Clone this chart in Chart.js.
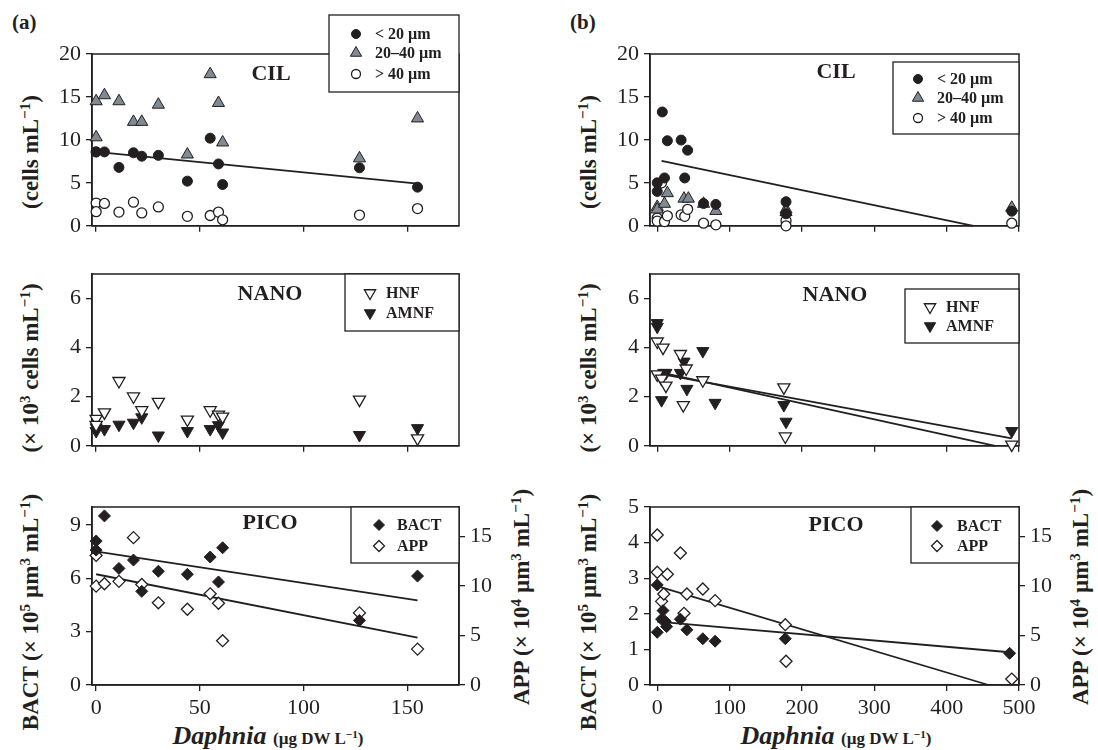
<!DOCTYPE html>
<html><head><meta charset="utf-8">
<script src="https://cdn.jsdelivr.net/npm/chart.js@4.4.1/dist/chart.umd.min.js"></script>
<style>
html,body{margin:0;padding:0;background:#fff;}
#wrap{position:relative;width:1098px;height:750px;overflow:hidden;font-family:'Liberation Serif','Times New Roman',serif;color:#231f20;}
canvas{position:absolute;}
.lab{position:absolute;white-space:nowrap;font-weight:bold;transform:translate(-50%,-50%);line-height:1;}
.rot{transform:translate(-50%,-50%) rotate(-90deg);font-size:23px;}
.pl{font-size:21px;transform:translate(0,-50%);}
.xt{font-size:26px;}
.xt i{font-style:italic;}
.xt .sm{font-size:17px;}
sup{font-size:0.66em;vertical-align:0.5em;line-height:0;}
</style></head>
<body><div id="wrap">
<div class="lab pl" style="left:12px;top:22px">(a)</div>
<div class="lab pl" style="left:570px;top:22px">(b)</div>
<div class="lab rot" style="left:30px;top:152px">(cells mL<sup>−1</sup>)</div>
<div class="lab rot" style="left:30px;top:368px">(× 10<sup>3</sup> cells mL<sup>−1</sup>)</div>
<div class="lab rot" style="left:30px;top:612px">BACT (× 10<sup>5</sup> µm<sup>3</sup> mL<sup>−1</sup>)</div>
<div class="lab rot" style="left:521px;top:597px">APP (× 10<sup>4</sup> µm<sup>3</sup> mL<sup>−1</sup>)</div>
<div class="lab rot" style="left:588px;top:152px">(cells mL<sup>−1</sup>)</div>
<div class="lab rot" style="left:588px;top:368px">(× 10<sup>3</sup> cells mL<sup>−1</sup>)</div>
<div class="lab rot" style="left:588px;top:612px">BACT (× 10<sup>5</sup> µm<sup>3</sup> mL<sup>−1</sup>)</div>
<div class="lab rot" style="left:1080px;top:597px">APP (× 10<sup>4</sup> µm<sup>3</sup> mL<sup>−1</sup>)</div>
<div class="lab xt" style="left:268px;top:736px"><i>Daphnia</i> <span class="sm">(µg DW L<sup>−1</sup>)</span></div>
<div class="lab xt" style="left:836px;top:736px"><i>Daphnia</i> <span class="sm">(µg DW L<sup>−1</sup>)</span></div>
</div>
<script>
const INK = '#231f20';
const GRAY = '#7f8a93';
const FONT = "'Liberation Serif', 'Times New Roman', serif";

// ---------- tick labels ----------
const aXTicks = [0, 50, 100, 150];
const bXTicks = [0, 100, 200, 300, 400, 500];
const cilYTicks = [0, 5, 10, 15, 20];
const nanoYTicks = [0, 2, 4, 6];
const aPicoYTicks = [0, 3, 6, 9];
const bPicoYTicks = [0, 1, 2, 3, 4, 5];
const appYTicks = [0, 5, 10, 15];

// ---------- series labels ----------
const cilLabels = ['< 20 µm', '20–40 µm', '> 40 µm'];
const nanoLabels = ['HNF', 'AMNF'];
const picoLabels = ['BACT', 'APP'];

// ---------- (a) data: Daphnia biomass and responses ----------
const aDaphnia   = [0, 0, 4, 11, 18, 22, 30, 44, 55, 59, 61, 127, 155];
const aCilSmall  = [8.6, 8.6, 8.6, 6.8, 8.5, 8.1, 8.2, 5.2, 10.2, 7.2, 4.8, 6.75, 4.5];
const aCilMid    = [14.5, 10.3, 15.2, 14.5, 12.1, 12.1, 14.1, 8.3, 17.65, 14.3, 9.7, 7.85, 12.5];
const aCilLarge  = [2.65, 1.64, 2.6, 1.6, 2.75, 1.5, 2.2, 1.1, 1.2, 1.6, 0.7, 1.25, 2.0];
const aHNF       = [1.1, 0.85, 1.36, 2.64, 2.01, 1.45, 1.79, 1.07, 1.45, 1.27, 1.19, 1.88, 0.3];
const aAMNF      = [0.6, 0.75, 0.68, 0.86, 0.94, 1.16, 0.42, 0.6, 0.68, 0.84, 0.54, 0.44, 0.72];
const aBACT      = [8.09, 7.58, 9.5, 6.55, 7.02, 5.26, 6.39, 6.22, 7.19, 5.79, 7.71, 3.63, 6.12];
const aAPP       = [13.1, 10.0, 10.24, 10.48, 14.9, 10.17, 8.31, 7.66, 9.22, 8.27, 4.48, 7.29, 3.63];
// regression line end points (a)
const aCilFitX = [0, 155],  aCilFitY = [8.6, 4.9];
const aBactFitX = [-2, 155], aBactFitY = [7.53, 4.76];
const aAppFitX = [0, 155],  aAppFitY = [11.2, 4.8];

// ---------- (b) data ----------
const bCilSmallX = [0, 0, 7, 10, 14, 33, 38, 42, 64, 81, 178, 178, 490];
const bCilSmallY = [5.0, 4.0, 13.25, 5.57, 9.9, 9.98, 5.57, 8.8, 2.6, 2.49, 2.8, 1.4, 1.7];
const bCilMidX   = [0, 0, 10, 14, 37, 43, 64, 81, 178, 178, 490];
const bCilMidY   = [2.2, 1.9, 2.56, 3.8, 3.16, 3.16, 2.56, 1.73, 1.9, 1.6, 2.1];
const bCilLargeX = [0, 0, 6, 10, 14, 33, 38, 42, 64, 81, 178, 178, 490];
const bCilLargeY = [0.9, 0.55, 5.0, 0.49, 1.16, 1.28, 1.1, 1.92, 0.3, 0.11, 0.6, 0.0, 0.3];
const bHNFX  = [0, 0, 6, 8, 12, 32, 36, 40, 63, 175, 177, 490];
const bHNFY  = [4.25, 2.91, 2.74, 4.0, 2.45, 3.74, 1.66, 3.15, 2.67, 2.38, 0.38, 0.05];
const bAMNFX = [0, 0, 6, 9, 12, 32, 37, 41, 63, 80, 175, 178, 490];
const bAMNFY = [5.0, 4.85, 1.86, 2.97, 2.97, 2.97, 3.43, 2.32, 3.86, 1.75, 1.66, 0.98, 0.6];
const bBACTX = [0, 0, 6, 8, 11, 13, 32, 41, 63, 80, 177, 487];
const bBACTY = [2.81, 1.48, 1.85, 2.09, 1.79, 1.64, 1.85, 1.55, 1.30, 1.23, 1.30, 0.89];
const bAPPX  = [0, 0, 6, 9, 14, 32, 37, 41, 63, 80, 177, 178, 490];
const bAPPY  = [15.17, 11.4, 8.46, 9.2, 11.2, 13.35, 7.25, 9.2, 9.71, 8.53, 6.1, 2.4, 0.6];
// regression line end points (b)
const bCilFitX = [6, 437],   bCilFitY = [7.55, 0];
const bHNFFitX = [0, 467],   bHNFFitY = [3.02, 0];
const bAMNFFitX = [0, 490],  bAMNFFitY = [2.95, 0.3];
const bBactFitX = [0, 487],  bBactFitY = [1.78, 0.92];
const bAppFitX = [0, 458],   bAppFitY = [10.0, 0];

// ---------- helpers ----------
const pts = (xs, ys) => xs.map((x, i) => ({x, y: ys[i]})).filter(p => p.y !== null && p.y !== undefined);
const sty = {
  dot:   {pointStyle: 'circle', pointRadius: 5, backgroundColor: INK, borderColor: INK, borderWidth: 1},
  tri:   {pointStyle: 'triangle', pointRadius: 7, backgroundColor: GRAY, borderColor: INK, borderWidth: 1},
  ring:  {pointStyle: 'circle', pointRadius: 5, backgroundColor: '#fff', borderColor: INK, borderWidth: 1.3},
  dOpen: {pointStyle: 'triangle', pointRotation: 180, pointRadius: 7, backgroundColor: '#fff', borderColor: INK, borderWidth: 1.3},
  dFill: {pointStyle: 'triangle', pointRotation: 180, pointRadius: 7, backgroundColor: INK, borderColor: INK, borderWidth: 1},
  diaF:  {pointStyle: 'rectRot', pointRadius: 6, backgroundColor: INK, borderColor: INK, borderWidth: 1},
  diaO:  {pointStyle: 'rectRot', pointRadius: 6, backgroundColor: '#fff', borderColor: INK, borderWidth: 1.3}
};
const series = (label, data, s, axis) => Object.assign({label, data, clip: false, yAxisID: axis || 'y', showLine: false}, s);
const fit = (xs, ys, axis) => ({label: 'fit', data: pts(xs, ys), showLine: true, pointRadius: 0, borderColor: INK, borderWidth: 1.8, fill: false, clip: false, yAxisID: axis || 'y'});

const deco = {
  id: 'deco',
  beforeDatasetsDraw(chart, args, o) {
    const {ctx, chartArea: a} = chart;
    ctx.save();
    ctx.strokeStyle = INK; ctx.lineWidth = 1.5;
    ctx.strokeRect(a.left, a.top, a.right - a.left, a.bottom - a.top);
    ctx.restore();
  },
  afterDatasetsDraw(chart, args, o) {
    const ctx = chart.ctx, ox = o.ox, oy = o.oy;
    ctx.save();
    ctx.fillStyle = INK;
    ctx.font = 'bold 22px ' + FONT;
    ctx.textAlign = 'center'; ctx.textBaseline = 'middle';
    ctx.fillText(o.title, o.tx - ox, o.ty - oy);
    const L = o.legend;
    ctx.fillStyle = '#fff';
    ctx.fillRect(L.x - ox, L.y - oy, L.w, L.h);
    ctx.strokeStyle = INK; ctx.lineWidth = 1.3;
    ctx.strokeRect(L.x - ox, L.y - oy, L.w, L.h);
    L.items.forEach((di, i) => {
      const ds = chart.data.datasets[di];
      const y = L.rows[i] - oy;
      ctx.fillStyle = ds.backgroundColor; ctx.strokeStyle = ds.borderColor; ctx.lineWidth = ds.borderWidth;
      Chart.helpers.drawPoint(ctx, {pointStyle: ds.pointStyle, rotation: ds.pointRotation || 0, radius: ds.pointRadius - 0.5, borderWidth: ds.borderWidth}, L.mx - ox, y);
      ctx.fillStyle = INK;
      ctx.font = 'bold 16px ' + FONT;
      ctx.textAlign = 'left'; ctx.textBaseline = 'middle';
      ctx.fillText(ds.label, L.tx - ox, y + 1);
    });
    ctx.restore();
  }
};

const wrap = document.getElementById('wrap');
function makePanel(p) {
  const padL = 90, padT = 45, padR = p.y2 ? 50 : 10, xH = p.xLabels ? 40 : 12;
  const W = padL + (p.r - p.l) + padR, H = padT + (p.b - p.t) + xH;
  const ox = p.l - padL, oy = p.t - padT;
  const cv = document.createElement('canvas');
  cv.width = W; cv.height = H;
  cv.style.left = ox + 'px'; cv.style.top = oy + 'px';
  cv.style.width = W + 'px'; cv.style.height = H + 'px';
  wrap.appendChild(cv);
  const grid = {display: true, drawOnChartArea: false, drawTicks: true, tickLength: 6, color: INK, lineWidth: 1.3};
  const border = {display: true, color: INK, width: 1.5};
  const tickFont = {family: FONT, size: 22};
  const yScale = (rng, ticks, pos, width) => ({
    type: 'linear', position: pos, min: rng[0], max: rng[1], grid, border,
    ticks: {font: tickFont, color: INK, padding: 5, callback: (v, i) => String(ticks[i])},
    afterBuildTicks: s => { s.ticks = ticks.map(v => ({value: v})); },
    afterFit: s => { s.width = width; }
  });
  const scales = {
    x: {type: 'linear', position: 'bottom', min: p.x[0], max: p.x[1], grid, border,
        ticks: {display: p.xLabels, font: tickFont, color: INK, padding: 4, maxRotation: 0, callback: (v, i) => String(p.xTicks[i])},
        afterBuildTicks: s => { s.ticks = p.xTicks.map(v => ({value: v})); },
        afterFit: s => { s.height = xH; }},
    y: yScale(p.y, p.yTicks, 'left', padL)
  };
  if (p.y2) scales.y2 = yScale(p.y2, p.y2Ticks, 'right', padR);
  new Chart(cv, {
    type: 'scatter',
    data: {datasets: p.datasets},
    options: {
      responsive: false, animation: false, events: [],
      layout: {padding: {top: padT, right: p.y2 ? 0 : padR, left: 0, bottom: 0}, autoPadding: false},
      scales,
      plugins: {legend: {display: false}, tooltip: {enabled: false}, deco: Object.assign({}, p.deco, {ox, oy})}
    },
    plugins: [deco]
  });
}

const A = {l: 92, r: 459, x: [-2, 175], xTicks: aXTicks};
const B = {l: 650, r: 1019, x: [-10, 500], xTicks: bXTicks};

// (a) CIL
makePanel(Object.assign({}, A, {t: 54, b: 232, xLabels: false, y: [0, 20], yTicks: cilYTicks,
  datasets: [
    series(cilLabels[0], pts(aDaphnia, aCilSmall), sty.dot),
    series(cilLabels[1], pts(aDaphnia, aCilMid), sty.tri),
    series(cilLabels[2], pts(aDaphnia, aCilLarge), sty.ring),
    fit(aCilFitX, aCilFitY)
  ],
  deco: {title: 'CIL', tx: 271, ty: 74, legend: {x: 329, y: 15, w: 130, h: 77, mx: 356, tx: 375, rows: [34, 53, 74], items: [0, 1, 2]}}
}));
// (a) NANO
makePanel(Object.assign({}, A, {t: 274, b: 452, xLabels: false, y: [0, 7], yTicks: nanoYTicks,
  datasets: [
    series(nanoLabels[0], pts(aDaphnia, aHNF), sty.dOpen),
    series(nanoLabels[1], pts(aDaphnia, aAMNF), sty.dFill)
  ],
  deco: {title: 'NANO', tx: 270, ty: 294, legend: {x: 345, y: 274, w: 114, h: 57, mx: 370, tx: 386, rows: [293, 313], items: [0, 1]}}
}));
// (a) PICO
makePanel(Object.assign({}, A, {t: 507, b: 685, xLabels: true, y: [0, 10], yTicks: aPicoYTicks, y2: [0, 18], y2Ticks: appYTicks,
  datasets: [
    series(picoLabels[0], pts(aDaphnia, aBACT), sty.diaF),
    series(picoLabels[1], pts(aDaphnia, aAPP), sty.diaO, 'y2'),
    fit(aBactFitX, aBactFitY),
    fit(aAppFitX, aAppFitY, 'y2')
  ],
  deco: {title: 'PICO', tx: 270, ty: 523, legend: {x: 351, y: 507, w: 108, h: 56, mx: 379, tx: 397, rows: [525, 546], items: [0, 1]}}
}));
// (b) CIL
makePanel(Object.assign({}, B, {t: 54, b: 232, xLabels: false, y: [0, 20], yTicks: cilYTicks,
  datasets: [
    series(cilLabels[0], pts(bCilSmallX, bCilSmallY), sty.dot),
    series(cilLabels[1], pts(bCilMidX, bCilMidY), sty.tri),
    series(cilLabels[2], pts(bCilLargeX, bCilLargeY), sty.ring),
    fit(bCilFitX, bCilFitY)
  ],
  deco: {title: 'CIL', tx: 836, ty: 72, legend: {x: 893, y: 62, w: 126, h: 72, mx: 918, tx: 937, rows: [79, 98, 118], items: [0, 1, 2]}}
}));
// (b) NANO
makePanel(Object.assign({}, B, {t: 274, b: 452, xLabels: false, y: [0, 7], yTicks: nanoYTicks,
  datasets: [
    series(nanoLabels[0], pts(bHNFX, bHNFY), sty.dOpen),
    series(nanoLabels[1], pts(bAMNFX, bAMNFY), sty.dFill),
    fit(bHNFFitX, bHNFFitY),
    fit(bAMNFFitX, bAMNFFitY)
  ],
  deco: {title: 'NANO', tx: 835, ty: 295, legend: {x: 905, y: 289, w: 114, h: 54, mx: 930, tx: 946, rows: [307, 326], items: [0, 1]}}
}));
// (b) PICO
makePanel(Object.assign({}, B, {t: 507, b: 685, xLabels: true, y: [0, 5], yTicks: bPicoYTicks, y2: [0, 18], y2Ticks: appYTicks,
  datasets: [
    series(picoLabels[0], pts(bBACTX, bBACTY), sty.diaF),
    series(picoLabels[1], pts(bAPPX, bAPPY), sty.diaO, 'y2'),
    fit(bBactFitX, bBactFitY),
    fit(bAppFitX, bAppFitY, 'y2')
  ],
  deco: {title: 'PICO', tx: 836, ty: 525, legend: {x: 911, y: 507, w: 108, h: 56, mx: 937, tx: 957, rows: [526, 546], items: [0, 1]}}
}));
</script>
</body></html>
